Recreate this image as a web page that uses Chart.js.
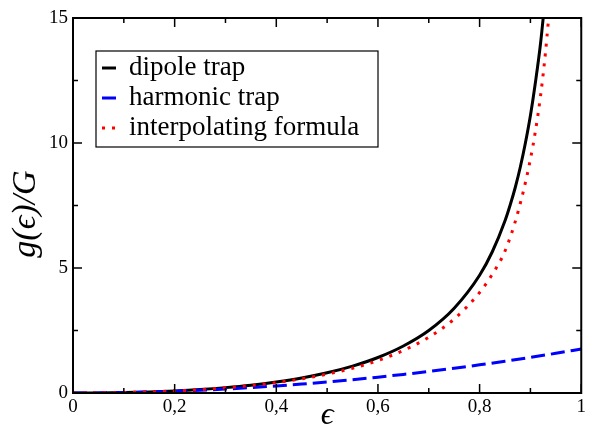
<!DOCTYPE html>
<html>
<head>
<meta charset="utf-8">
<script src="https://cdn.jsdelivr.net/npm/chart.js@4.4.1/dist/chart.umd.min.js"></script>
<style>
  html, body { margin: 0; padding: 0; background: #fff; }
  #wrap { width: 589px; height: 438px; }
</style>
</head>
<body>
<div id="wrap"><canvas id="chart" width="589" height="438"></canvas></div>
<script>
// g(eps)/G
const dipoleEps = [0, 0.05, 0.1, 0.15, 0.2, 0.25, 0.3, 0.35, 0.4, 0.45, 0.5, 0.55, 0.6, 0.65, 0.7, 0.75, 0.8, 0.825, 0.85, 0.86, 0.87, 0.88, 0.89, 0.9, 0.91, 0.92, 0.93];
const dipoleG = [0, 0.0045, 0.019, 0.045, 0.085, 0.14, 0.215, 0.312, 0.44, 0.6, 0.807, 1.074, 1.42, 1.88, 2.5, 3.39, 4.71, 5.65, 6.89, 7.51, 8.21, 9.03, 9.99, 11.1, 12.45, 14.0, 16.0];

const harmonicEps = [0, 0.05, 0.1, 0.15, 0.2, 0.25, 0.3, 0.35, 0.4, 0.45, 0.5, 0.55, 0.6, 0.65, 0.7, 0.75, 0.8, 0.85, 0.9, 0.95, 1];
const harmonicG = [0, 0.0044, 0.0176, 0.0396, 0.0704, 0.11, 0.158, 0.216, 0.282, 0.356, 0.44, 0.532, 0.634, 0.744, 0.862, 0.99, 1.126, 1.272, 1.426, 1.588, 1.76];

const interpEps = [0, 0.05, 0.1, 0.15, 0.2, 0.25, 0.3, 0.35, 0.4, 0.45, 0.5, 0.55, 0.6, 0.65, 0.7, 0.75, 0.8, 0.825, 0.85, 0.875, 0.9, 0.91, 0.92, 0.93, 0.94];
const interpG = [0, 0.0045, 0.019, 0.044, 0.083, 0.136, 0.207, 0.3, 0.418, 0.566, 0.755, 0.99, 1.3, 1.7, 2.23, 2.96, 4.02, 4.75, 5.68, 7.2, 9.35, 10.5, 11.9, 13.7, 16.0];

const seriesLabels = ['dipole trap', 'harmonic trap', 'interpolating formula'];

const xTickValues = [0, 0.2, 0.4, 0.6, 0.8, 1];
const xTickLabels = ['0', '0,2', '0,4', '0,6', '0,8', '1'];
const xMinorTicks = [0.1, 0.3, 0.5, 0.7, 0.9];
const yTickValues = [0, 5, 10, 15];
const yTickLabels = ['0', '5', '10', '15'];
const yMinorTicks = [2.5, 7.5, 12.5];

const serif = "'Liberation Serif', 'Times New Roman', 'DejaVu Serif', serif";

const toPoints = (xs, ys) => xs.map((x, i) => ({ x, y: ys[i] }));

// frame with inward ticks on all four sides
const frameTicks = {
  id: 'frameTicks',
  afterDatasetsDraw(chart) {
    const { ctx, chartArea: a, scales: { x, y } } = chart;
    ctx.save();
    ctx.strokeStyle = '#000';
    ctx.lineWidth = 1.5;
    ctx.beginPath();
    const xt = (v, len) => {
      const px = x.getPixelForValue(v);
      ctx.moveTo(px, a.bottom); ctx.lineTo(px, a.bottom - len);
      ctx.moveTo(px, a.top); ctx.lineTo(px, a.top + len);
    };
    const yt = (v, len) => {
      const py = y.getPixelForValue(v);
      ctx.moveTo(a.left, py); ctx.lineTo(a.left + len, py);
      ctx.moveTo(a.right, py); ctx.lineTo(a.right - len, py);
    };
    xTickValues.forEach(v => xt(v, 9));
    xMinorTicks.forEach(v => xt(v, 5));
    yTickValues.forEach(v => yt(v, 9));
    yMinorTicks.forEach(v => yt(v, 5));
    ctx.stroke();
    ctx.lineWidth = 2;
    ctx.strokeRect(a.left, a.top, a.width, a.height);
    ctx.restore();
  }
};

// boxed legend inside the plot, like the original
const boxLegend = {
  id: 'boxLegend',
  afterDraw(chart, args, opts) {
    const { ctx } = chart;
    const b = opts.box;
    ctx.save();
    ctx.fillStyle = '#fff';
    ctx.fillRect(b.left, b.top, b.width, b.height);
    ctx.strokeStyle = '#000';
    ctx.lineWidth = 1.2;
    ctx.strokeRect(b.left, b.top, b.width, b.height);
    chart.data.datasets.forEach((ds, i) => {
      const ry = b.top + 17 + i * 30;
      ctx.beginPath();
      ctx.setLineDash(ds.borderDash || []);
      ctx.lineCap = 'butt';
      ctx.strokeStyle = ds.borderColor;
      ctx.lineWidth = ds.borderWidth;
      ctx.moveTo(b.left + 6, ry);
      ctx.lineTo(b.left + 20, ry);
      ctx.stroke();
      ctx.setLineDash([]);
      ctx.fillStyle = '#000';
      ctx.font = '27px ' + serif;
      ctx.textBaseline = 'alphabetic';
      ctx.textAlign = 'left';
      ctx.fillText(ds.label, b.left + 33, ry + 7);
    });
    ctx.restore();
  }
};

new Chart(document.getElementById('chart'), {
  type: 'line',
  data: {
    datasets: [
      { label: seriesLabels[0], data: toPoints(dipoleEps, dipoleG), borderColor: '#000000', borderWidth: 3, order: 2 },
      { label: seriesLabels[1], data: toPoints(harmonicEps, harmonicG), borderColor: '#0000ff', borderWidth: 3, borderDash: [14, 6], order: 1 },
      { label: seriesLabels[2], data: toPoints(interpEps, interpG), borderColor: '#ff0000', borderWidth: 3, borderDash: [3, 7], order: 0 }
    ].map(ds => ({ ...ds, pointRadius: 0, fill: false, cubicInterpolationMode: 'monotone', borderCapStyle: 'butt', clip: 0 }))
  },
  options: {
    responsive: false,
    animation: false,
    layout: { padding: { top: 18, right: 6, left: 0, bottom: 0 } },
    plugins: {
      legend: { display: false },
      tooltip: { enabled: false },
      boxLegend: { box: { left: 96, top: 51, width: 282, height: 96 } }
    },
    scales: {
      x: {
        type: 'linear', min: 0, max: 1,
        afterBuildTicks: s => { s.ticks = xTickValues.map(v => ({ value: v })); },
        afterFit: s => { s.height = 45; },
        grid: { display: false, drawTicks: false },
        border: { display: false },
        ticks: { color: '#000', padding: 3, maxRotation: 0, font: { family: serif, size: 19 }, callback: (v, i) => xTickLabels[i] },
        title: { display: true, text: 'ϵ', color: '#000', font: { family: serif, size: 32, style: 'italic' }, padding: { top: 0, bottom: 3 } }
      },
      y: {
        type: 'linear', min: 0, max: 15,
        afterBuildTicks: s => { s.ticks = yTickValues.map(v => ({ value: v })); },
        afterFit: s => { s.width = 73; },
        grid: { display: false, drawTicks: false },
        border: { display: false },
        ticks: { color: '#000', padding: 5, font: { family: serif, size: 19 }, callback: (v, i) => yTickLabels[i] },
        // trailing en space nudges the rotated title down a little, as in the original
        title: { display: true, text: 'g(ϵ)/G\u2002', color: '#000', font: { family: serif, size: 34, style: 'italic' }, padding: { top: 6, bottom: 0 } }
      }
    }
  },
  plugins: [frameTicks, boxLegend]
});
</script>
</body>
</html>
